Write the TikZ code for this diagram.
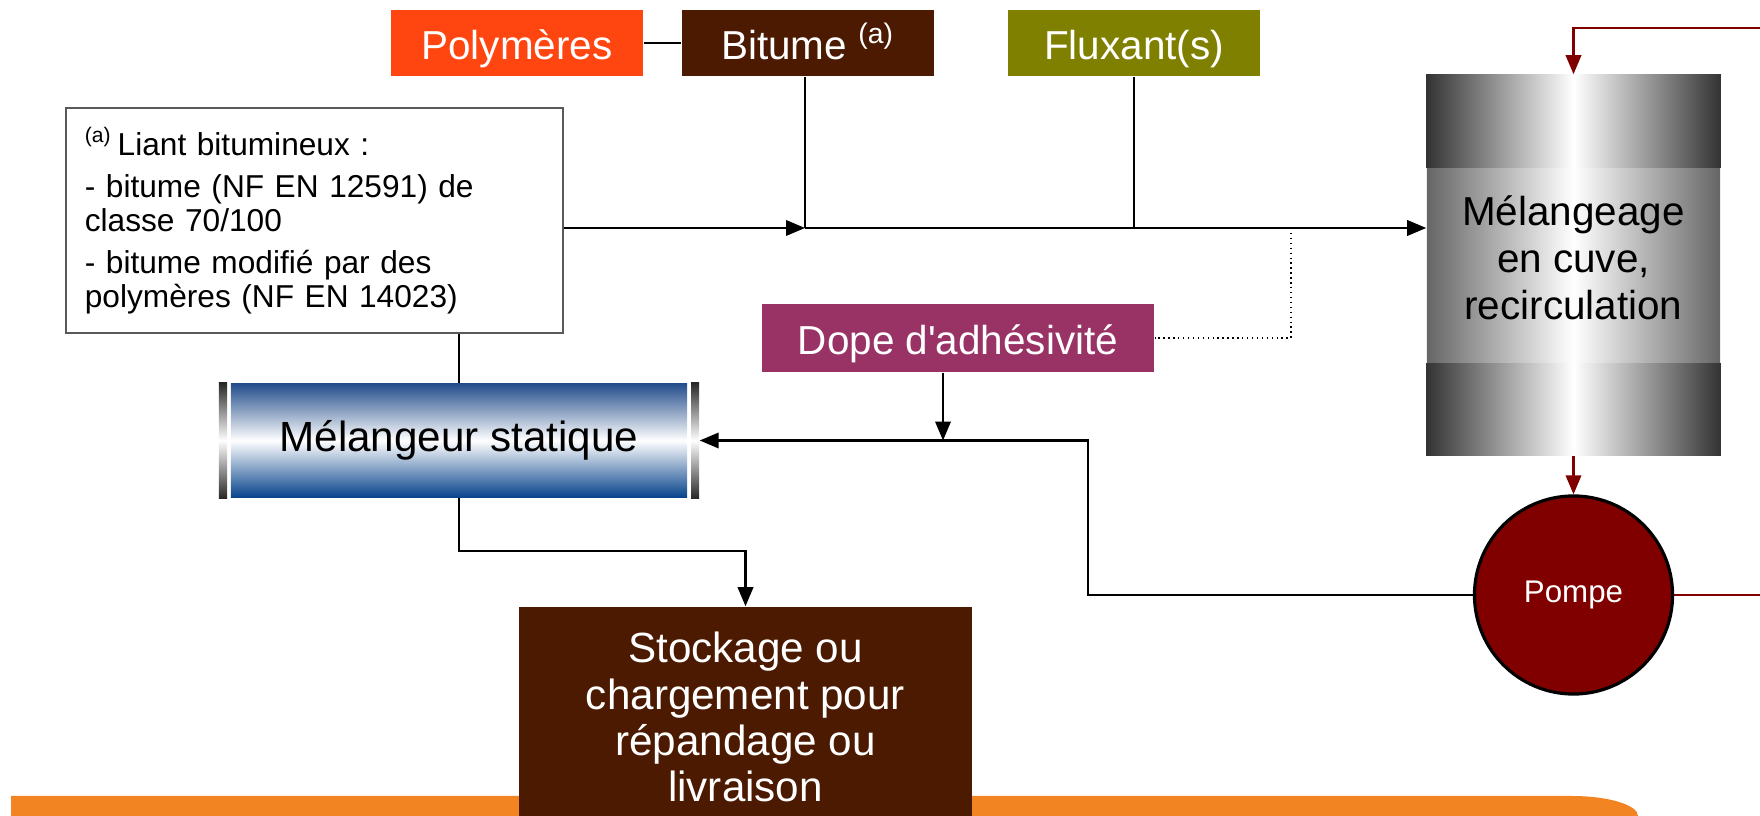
\documentclass[tikz,border=0pt]{standalone}
\usepackage{fontspec}
\setmainfont{Liberation Sans}
\usetikzlibrary{arrows.meta}

\definecolor{polyred}{RGB}{255,69,16}
\definecolor{bitbrown}{RGB}{75,26,0}
\definecolor{fluxolive}{RGB}{128,128,0}
\definecolor{dopepink}{RGB}{153,51,102}
\definecolor{pumpred}{RGB}{128,0,0}
\definecolor{bandorange}{RGB}{242,132,34}
\definecolor{meltop}{RGB}{36,78,140}
\definecolor{melbot}{RGB}{8,68,140}

\begin{document}
\begin{tikzpicture}[x=0.01cm, y=-0.01cm,
    feed/.style={rectangle, fill=#1, text=white, minimum width=2.52cm, minimum height=0.66cm, inner sep=0pt, text height=9.6pt, text depth=0.4pt, font=\fontsize{11.5}{13}\selectfont},
    note/.style={rectangle, draw=black!65, line width=0.4pt, fill=white, minimum height=2.25cm, text width=4.59cm, inner xsep=0.19cm, align=left, font=\fontsize{9}{9.7}\selectfont},
    melbox/.style={rectangle, minimum width=4.56cm, minimum height=1.13cm, top color=meltop, bottom color=melbot, middle color=white, font=\fontsize{12}{14}\selectfont},
    capbox/.style={rectangle, minimum width=0.08cm, minimum height=1.16cm, inner sep=0pt, top color=black!85, bottom color=black!85, middle color=white},
    tankmid/.style={rectangle, minimum width=2.93cm, minimum height=3.8cm, inner sep=0pt, left color=black!60, right color=black!60, middle color=white},
    tankend/.style={left color=black!80, right color=black!80, middle color=white},
    tanktext/.style={align=center, font=\fontsize{11.5}{13.4}\selectfont},
    pump/.style={circle, fill=pumpred, draw=black, line width=0.9pt, minimum size=1.98cm, inner sep=0pt, text=white, font=\fontsize{8.9}{10}\selectfont},
    stockbox/.style={rectangle, fill=bitbrown, minimum width=4.53cm, minimum height=2.2cm, text=white, align=center, font=\fontsize{12}{13.1}\selectfont},
    link/.style={line width=0.6pt},
    arr/.style={line width=0.6pt, -{Triangle[length=5.4pt, width=4.4pt]}},
    redarr/.style={arr, draw=pumpred},
    dotline/.style={line width=0.4pt, densely dotted}]
    \useasboundingbox (0,0) rectangle (1760,816);

    %bottom band
    \fill[bandorange] (11,816) -- (11,796) -- (1572,796) arc[start angle=90, end angle=0, x radius=0.66cm, y radius=0.2cm] -- cycle;

    %nodes
    \node[feed=polyred] (poly) at (517,43) {Polymères};
    \node[feed=bitbrown] (bitume) at (808,43) {Bitume \textsuperscript{(a)}};
    \node[feed=fluxolive] (flux) at (1134,43) {Fluxant(s)};
    \node[note] (note) at (314.5,220.5) {\textsuperscript{(a)}\,Liant bitumineux :\\[2.2pt]
        - bitume (NF EN 12591) de\\ classe 70/100\\[2.2pt]
        - bitume modifié par des\\ polymères (NF EN 14023)};
    \node[feed=dopepink, minimum width=3.92cm, minimum height=0.68cm] (dope) at (958,338) {Dope d\textquotesingle adhésivité};
    \node[melbox] (mel) at (459,440.5) {Mélangeur statique};
    \node[capbox] (capl) at (223,440.5) {};
    \node[capbox] (capr) at (695,440.5) {};
    \node[tankmid] (cuve) at (1573.5,265) {};
    \shade[tankend] (cuve.north west) rectangle ([yshift=-0.93cm]cuve.north east);
    \shade[tankend] ([yshift=0.92cm]cuve.south west) rectangle (cuve.south east);
    \node[tanktext] (cuvetxt) at ([yshift=0.07cm]cuve.center) {Mélangeage\\en cuve,\\recirculation};
    \node[pump] (pump) at (1573.5,595) {Pompe};
    \node[stockbox] (stock) at (745.5,717) {Stockage ou\\chargement pour\\répandage ou\\livraison};

    %junctions
    \coordinate (j1) at (805,228);
    \coordinate (j2) at (943,441);
    \coordinate (j3) at (1088,441);
    \coordinate (j4) at (744,551);
    \coordinate (d1) at (1291,228);
    \coordinate (r1) at (1760,28);
    \coordinate (r2) at (1760,595);

    %edges
    \draw[link] (poly) -- (bitume);
    \draw[link] (bitume.south -| j1) -- (j1);
    \draw[link] (flux.south) -- (flux.south |- j1);
    \draw[arr] (note.east |- j1) -- (j1);
    \draw[arr] (j1) -- (cuve.west |- j1);
    \draw[dotline] (d1) |- (dope.east);
    \draw[arr] (dope.south -| j2) -- (j2 |- capr.east);
    \draw[link] (mel.north |- note.south) -- (mel.north);
    \draw[arr] (pump.west) -| (j3 |- capr.east) -- (capr.east);
    \draw[arr] (mel.south) |- (j4 -| stock.north) -- (stock.north);

    %recirculation
    \draw[redarr] (r1) -| (cuve.north);
    \draw[redarr] (cuve.south) -- (pump.north);
    \draw[link, draw=pumpred] (pump.east) -- (r2);
\end{tikzpicture}
\end{document}
